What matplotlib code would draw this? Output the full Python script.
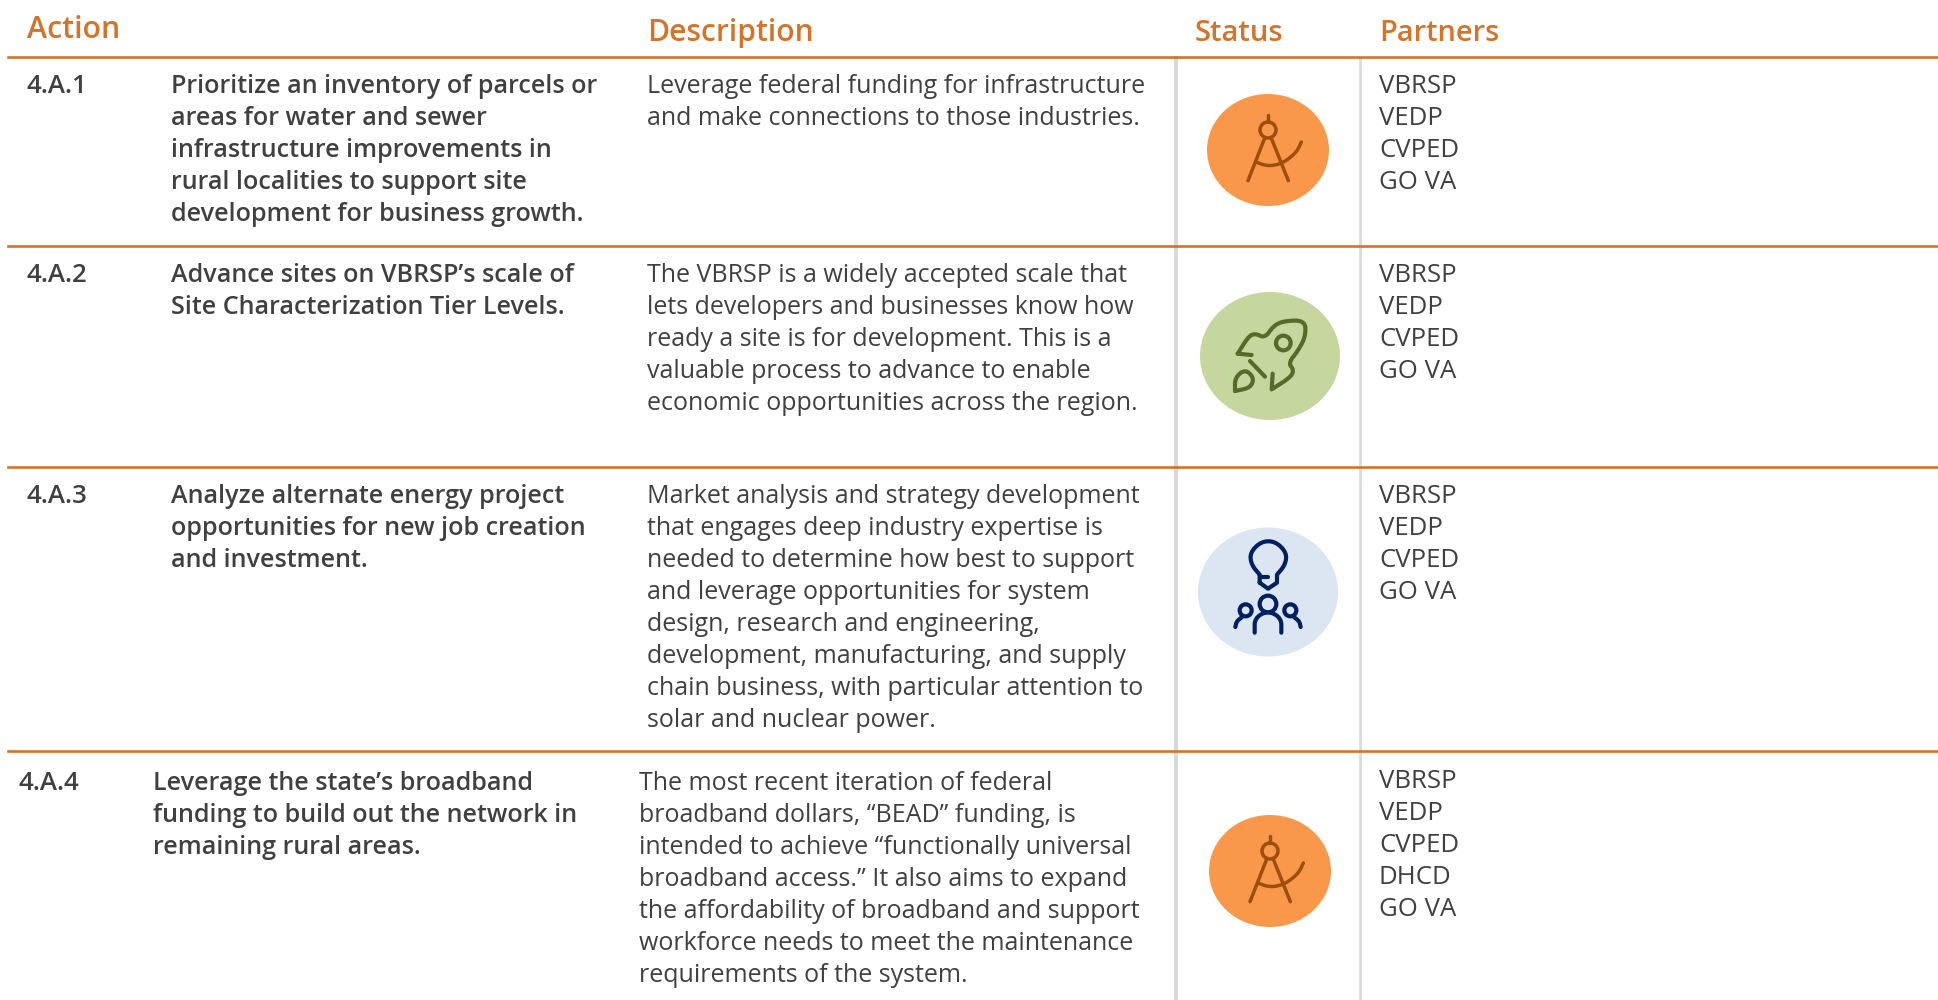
import matplotlib
matplotlib.use("Agg")
import matplotlib.pyplot as plt
from matplotlib.patches import Ellipse, Circle
from matplotlib.lines import Line2D

headers = ["Action", "Description", "Status", "Partners"]
action_ids = ["4.A.1", "4.A.2", "4.A.3", "4.A.4"]
action_titles = [
    ["Prioritize an inventory of parcels or", "areas for water and sewer",
     "infrastructure improvements in", "rural localities to support site",
     "development for business growth."],
    ["Advance sites on VBRSP\u2019s scale of", "Site Characterization Tier Levels."],
    ["Analyze alternate energy project", "opportunities for new job creation", "and investment."],
    ["Leverage the state\u2019s broadband", "funding to build out the network in", "remaining rural areas."],
]
descriptions = [
    ["Leverage federal funding for infrastructure", "and make connections to those industries."],
    ["The VBRSP is a widely accepted scale that", "lets developers and businesses know how",
     "ready a site is for development. This is a", "valuable process to advance to enable",
     "economic opportunities across the region."],
    ["Market analysis and strategy development", "that engages deep industry expertise is",
     "needed to determine how best to support", "and leverage opportunities for system",
     "design, research and engineering,", "development, manufacturing, and supply",
     "chain business, with particular attention to", "solar and nuclear power."],
    ["The most recent iteration of federal", "broadband dollars, \u201cBEAD\u201d funding, is",
     "intended to achieve \u201cfunctionally universal", "broadband access.\u201d It also aims to expand",
     "the affordability of broadband and support", "workforce needs to meet the maintenance",
     "requirements of the system."],
]
partners = [
    ["VBRSP", "VEDP", "CVPED", "GO VA"],
    ["VBRSP", "VEDP", "CVPED", "GO VA"],
    ["VBRSP", "VEDP", "CVPED", "GO VA"],
    ["VBRSP", "VEDP", "CVPED", "DHCD", "GO VA"],
]
statuses = ["design", "launch", "ideas", "design"]

FONT = "Open Sans"
ORANGE = "#D4732A"
TEXT = "#404040"
GREY = "#D9D9D9"
LH = 32.0
BODY = 18.0
TITLE = 18.1
PARTNER = 18.5

fig = plt.figure(figsize=(19.38, 10), dpi=100, facecolor="white")
ax = fig.add_axes([0, 0, 1, 1])
ax.set_xlim(0, 1938)
ax.set_ylim(1000, 0)
ax.axis("off")


def put(x, y, lines, weight="normal", size=BODY, color=TEXT):
    for i, s in enumerate(lines):
        ax.text(x, y + i * LH, s, family=FONT, fontsize=size, fontweight=weight,
                color=color, va="baseline", ha="left")


def chaikin(pts, n=2):
    for _ in range(n):
        out = [pts[0]]
        for a, b in zip(pts[:-1], pts[1:]):
            out.append((0.75 * a[0] + 0.25 * b[0], 0.75 * a[1] + 0.25 * b[1]))
            out.append((0.25 * a[0] + 0.75 * b[0], 0.25 * a[1] + 0.75 * b[1]))
        out.append(pts[-1])
        pts = out
    return pts


def stroke(cx, cy, pts, color, lw, smooth=False, sx=1.0 / 3):
    if smooth:
        pts = chaikin(pts)
    xs = [cx + px * sx for px, py in pts]
    ys = [cy + py * sx for px, py in pts]
    ax.add_line(Line2D(xs, ys, color=color, lw=lw, solid_capstyle="round",
                       solid_joinstyle="round", zorder=4))


def ring(cx, cy, x, y, r, color, lw, sx=1.0 / 3):
    ax.add_patch(Circle((cx + x * sx, cy + y * sx), r * sx, fill=False, ec=color, lw=lw, zorder=4))


def draw_design(cx, cy):
    ax.add_patch(Ellipse((cx, cy), 122, 112, fc="#F9984A", ec="none", zorder=3))
    c, lw = "#9C4F0C", 2.5
    stroke(cx, cy, [(0, -105), (0, -85)], c, lw)
    ring(cx, cy, 0, -60, 24, c, lw)
    stroke(cx, cy, [(-9, -38), (-60, 92)], c, lw)
    stroke(cx, cy, [(9, -38), (61, 92)], c, lw)
    stroke(cx, cy, [(-36, 36), (-10, 46), (15, 47), (45, 38), (70, 20), (88, 2), (100, -24)], c, lw, True)


def draw_launch(cx, cy):
    ax.add_patch(Ellipse((cx, cy), 140, 128, fc="#C5D79F", ec="none", zorder=3))
    c, lw = "#556B2B", 3.0
    stroke(cx, cy, [(-97, -7), (-97, -7), (-65, -58), (-45, -68), (-15, -54), (10, -90), (40, -105),
                    (105, -107), (107, -60), (85, -17), (55, 21), (72, 43),
                    (60, 65), (5, 100), (5, 100), (8, 53), (8, 53)], c, lw, True)
    stroke(cx, cy, [(-97, -7), (-55, -3)], c, lw)
    stroke(cx, cy, [(-60, 15), (-15, 62)], c, lw)
    ring(cx, cy, 40, -39, 22, c, lw)
    stroke(cx, cy, [(-105, 105), (-105, 105), (-105, 65), (-75, 40), (-48, 65), (-58, 95),
                    (-105, 105), (-105, 105)], c, lw, True)


def draw_ideas(cx, cy):
    ax.add_patch(Ellipse((cx, cy), 140, 129, fc="#DCE6F2", ec="none", zorder=3))
    c, lw = "#002060", 3.0
    stroke(cx, cy, [(-25, -28), (-25, -28), (-25, -52), (-25, -52), (-50, -82), (-54, -118), (-20, -152),
                    (22, -152), (56, -118), (52, -82), (27, -52), (27, -52), (27, -28), (27, -28),
                    (0, -10), (0, -10), (-25, -28), (-25, -28)], c, lw, True)
    stroke(cx, cy, [(-25, -44), (0, -44)], c, lw)
    ring(cx, cy, 0, 36, 25, c, lw)
    stroke(cx, cy, [(-40, 122), (-40, 122), (-40, 78), (0, 56), (40, 78), (40, 122), (40, 122)], c, lw, True)
    ring(cx, cy, -67, 55, 18, c, lw)
    stroke(cx, cy, [(-98, 105), (-98, 105), (-94, 88), (-79, 76)], c, lw, True)
    ring(cx, cy, 67, 55, 18, c, lw)
    stroke(cx, cy, [(98, 105), (98, 105), (94, 88), (79, 76)], c, lw, True)


icons = {"design": draw_design, "launch": draw_launch, "ideas": draw_ideas}

# Rules
for x, w in ((1176, 3.0), (1360, 1.9)):
    ax.add_line(Line2D([x, x], [58, 1000], color=GREY, lw=w, zorder=1))
for y in (57, 246, 467, 751):
    ax.add_line(Line2D([8, 1938], [y, y], color=ORANGE, lw=1.9, zorder=2))

# Header
put(27, 38, [headers[0]], "semibold", 21.9, ORANGE)
put(647, 41, [headers[1]], "semibold", 21.6, ORANGE)
put(1195, 41, [headers[2]], "semibold", 21.1, ORANGE)
put(1379, 41, [headers[3]], "semibold", 20.9, ORANGE)

# Rows
base = [92.7, 281.8, 503, 789.7]
partner_base = [92.7, 281.8, 503, 787.5]
id_x = [27, 27, 27, 19]
title_x = [171, 171, 171, 153]
desc_x = [647, 647, 647, 639]
centers = [(1268, 150), (1270, 356), (1268, 592), (1270, 871)]
for i in range(4):
    put(id_x[i], base[i], [action_ids[i]], "semibold", 18.6)
    put(title_x[i], base[i], action_titles[i], "semibold", TITLE)
    put(desc_x[i], base[i], descriptions[i])
    put(1379, partner_base[i], partners[i], "normal", PARTNER)
    icons[statuses[i]](*centers[i])

fig.savefig("out.png", dpi=100, facecolor="white")
